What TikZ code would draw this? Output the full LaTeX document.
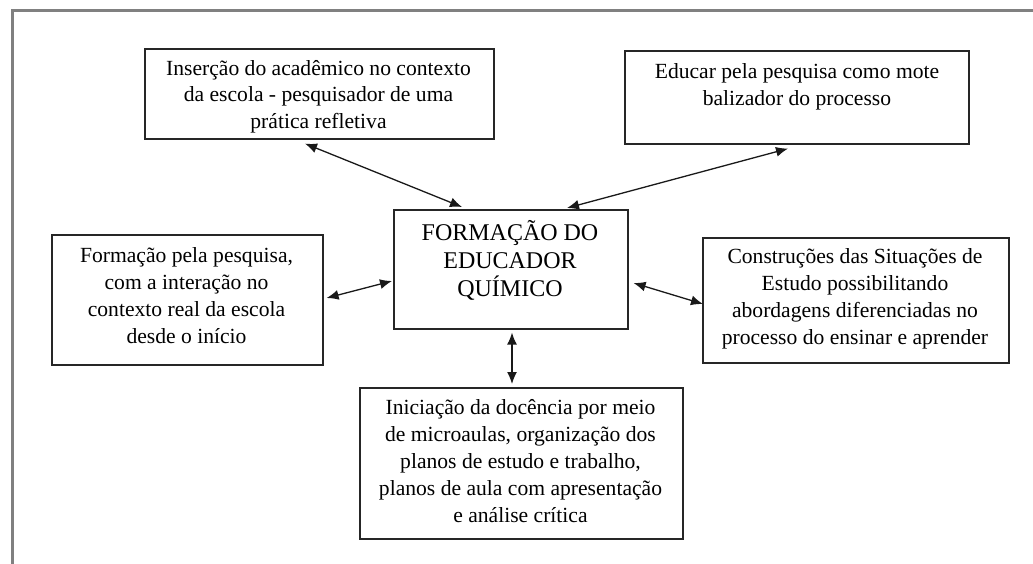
\documentclass[tikz,border=0pt]{standalone}
\usepackage{fontspec}
\setmainfont{Liberation Serif}
\usetikzlibrary{arrows.meta,calc}
\tikzset{
  boxshape/.style={draw=black!85,line width=1.6pt,inner sep=0pt,anchor=north west},
  txt/.style={align=center,inner sep=0pt,font=\fontsize{21.6}{27}\selectfont},
  toptxt/.style={align=center,inner sep=0pt,font=\fontsize{21.6}{26.5}\selectfont},
  centxt/.style={align=center,inner sep=0pt,font=\fontsize{24}{28}\selectfont},
  link/.style={line width=1.3pt,black!90,{Latex[length=12pt,width=10pt]}-{Latex[length=12pt,width=10pt]}},
  frame/.style={draw=black!50,line width=3pt}
}
\begin{document}
\begin{tikzpicture}[x=1pt,y=-1pt]
\useasboundingbox (0,0) rectangle (1033,563);
\draw[frame] (12,565) -- (12,10) -- (1035,10);
% boxes
\node[boxshape,minimum width=349pt,minimum height=90pt] (tl) at (144,48) {};
\node[boxshape,minimum width=344pt,minimum height=93pt] (tr) at (624,50) {};
\node[boxshape,minimum width=271pt,minimum height=130pt] (lf) at (51,234) {};
\node[boxshape,minimum width=234pt,minimum height=119pt] (ct) at (393,209) {};
\node[boxshape,minimum width=306pt,minimum height=125pt] (rt) at (702,237) {};
\node[boxshape,minimum width=323pt,minimum height=151pt] (bt) at (359,387) {};
% texts
\node[toptxt] (tlt) at (318.5,96.5) {Inserção do acadêmico no contexto\\da escola - pesquisador de uma\\prática refletiva};
\node[toptxt] (trt) at (797,87) {Educar pela pesquisa como mote\\balizador do processo};
\node[txt] (lft) at (186.5,296) {Formação pela pesquisa,\\com a interação no\\contexto real da escola\\desde o início};
\node[centxt] (ctt) at (510,260) {FORMAÇÃO DO\\EDUCADOR\\QUÍMICO};
\node[txt] (rtt) at (855,299) {Construções das Situações de\\Estudo possibilitando\\abordagens diferenciadas no\\processo do ensinar e aprender};
\node[txt] (btt) at (520.5,461.5) {Iniciação da docência por meio\\de microaulas, organização dos\\planos de estudo e trabalho,\\planos de aula com apresentação\\e análise crítica};
% connectors
\draw[link] ($(tl.south west)+(161,4)$) -- ($(ct.north west)+(69,-2)$);
\draw[link] ($(tr.south west)+(164,4)$) -- ($(ct.north west)+(174,-1)$);
\draw[link] ($(lf.north east)+(3,64)$) -- ($(ct.north west)+(-1,72)$);
\draw[link] ($(ct.north east)+(5,74)$) -- ($(rt.north west)+(1,67)$);
\draw[link] ($(ct.south west)+(119,3)$) -- ($(bt.north west)+(153,-3)$);
\end{tikzpicture}
\end{document}
